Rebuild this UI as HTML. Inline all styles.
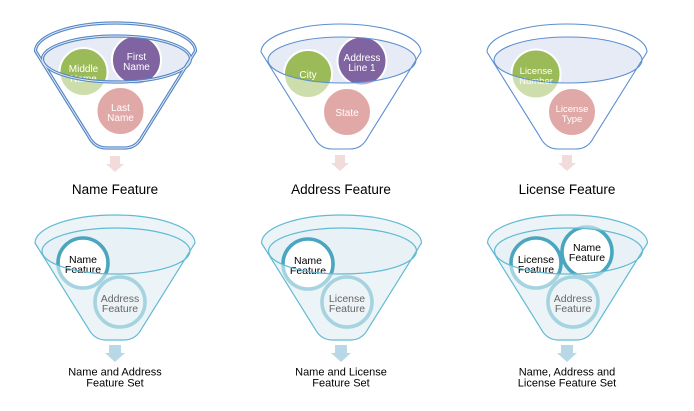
<!DOCTYPE html>
<html><head><meta charset="utf-8"><style>
html,body{margin:0;padding:0;background:#fff;}
svg{display:block;font-family:"Liberation Sans",sans-serif;}
</style></head><body>
<svg width="694" height="411" viewBox="0 0 694 411" xmlns="http://www.w3.org/2000/svg">
<!-- ===== TOP ROW ===== -->
<!-- F1 -->
<g transform="translate(115.5,23)">
  <path d="M-80,28 L-27,113 Q-21,125 -9,125 L9,125 Q21,125 27,113 L80,28 A80,28 0 0 0 -80,28 Z" fill="#ffffff"/>
  <ellipse cx="1" cy="36" rx="74" ry="23" fill="#e7ebf5"/>
  <circle cx="-32" cy="49" r="24" fill="#9bbb59" stroke="#fff" stroke-width="2"/>
  <circle cx="21" cy="37" r="24.5" fill="#8064a2" stroke="#fff" stroke-width="2"/>
  <circle cx="5" cy="88" r="24" fill="#c0504d" stroke="#fff" stroke-width="2"/>
  <path fill-rule="evenodd" fill="#ffffff" fill-opacity="0.5" d="M-80,28 L-27,113 Q-21,125 -9,125 L9,125 Q21,125 27,113 L80,28 A80,28 0 0 0 -80,28 Z M-73,36 a74,23 0 1,0 148,0 a74,23 0 1,0 -148,0 Z"/>
  <g fill="#fff" font-size="10" text-anchor="middle">
    <text x="-32" y="49">Middle</text><text x="-32" y="59">Name</text>
    <text x="21" y="37">First</text><text x="21" y="47">Name</text>
    <text x="5" y="88">Last</text><text x="5" y="98">Name</text>
  </g>
  <path d="M-80,28 L-27,113 Q-21,125 -9,125 L9,125 Q21,125 27,113 L80,28 A80,28 0 0 0 -80,28 Z" fill="none" stroke="#5587c6" stroke-width="3.2"/>
  <ellipse cx="1" cy="36" rx="74" ry="23" fill="none" stroke="#5587c6" stroke-width="3.2"/>
  <path d="M-80,28 L-27,113 Q-21,125 -9,125 L9,125 Q21,125 27,113 L80,28 A80,28 0 0 0 -80,28 Z" fill="none" stroke="#e4ecf7" stroke-width="0.9"/>
  <ellipse cx="1" cy="36" rx="74" ry="23" fill="none" stroke="#e4ecf7" stroke-width="0.9"/>
</g>
<!-- F2 -->
<g transform="translate(341,24)">
  <path d="M-80,28 L-27,113 Q-21,125 -9,125 L9,125 Q21,125 27,113 L80,28 A80,28 0 0 0 -80,28 Z" fill="#ffffff"/>
  <ellipse cx="1" cy="36" rx="74" ry="23" fill="#e7ebf5"/>
  <circle cx="-33" cy="50" r="24" fill="#9bbb59" stroke="#fff" stroke-width="2"/>
  <circle cx="21" cy="37" r="24.5" fill="#8064a2" stroke="#fff" stroke-width="2"/>
  <circle cx="6" cy="88" r="24" fill="#c0504d" stroke="#fff" stroke-width="2"/>
  <path fill-rule="evenodd" fill="#ffffff" fill-opacity="0.5" d="M-80,28 L-27,113 Q-21,125 -9,125 L9,125 Q21,125 27,113 L80,28 A80,28 0 0 0 -80,28 Z M-73,36 a74,23 0 1,0 148,0 a74,23 0 1,0 -148,0 Z"/>
  <g fill="#fff" font-size="10" text-anchor="middle">
    <text x="-33" y="54">City</text>
    <text x="21" y="37">Address</text><text x="21" y="47">Line 1</text>
    <text x="6" y="92">State</text>
  </g>
  <path d="M-80,28 L-27,113 Q-21,125 -9,125 L9,125 Q21,125 27,113 L80,28 A80,28 0 0 0 -80,28 Z" fill="none" stroke="#5b8fd0" stroke-width="1.1"/>
  <ellipse cx="1" cy="36" rx="74" ry="23" fill="none" stroke="#5b8fd0" stroke-width="1.1"/>
</g>
<!-- F3 -->
<g transform="translate(567,24)">
  <path d="M-80,28 L-27,113 Q-21,125 -9,125 L9,125 Q21,125 27,113 L80,28 A80,28 0 0 0 -80,28 Z" fill="#ffffff"/>
  <ellipse cx="1" cy="36" rx="74" ry="23" fill="#e7ebf5"/>
  <circle cx="-31" cy="50" r="24.5" fill="#9bbb59" stroke="#fff" stroke-width="2"/>
  <circle cx="5" cy="88" r="24" fill="#c0504d" stroke="#fff" stroke-width="2"/>
  <path fill-rule="evenodd" fill="#ffffff" fill-opacity="0.5" d="M-80,28 L-27,113 Q-21,125 -9,125 L9,125 Q21,125 27,113 L80,28 A80,28 0 0 0 -80,28 Z M-73,36 a74,23 0 1,0 148,0 a74,23 0 1,0 -148,0 Z"/>
  <g fill="#fff" font-size="9.5" text-anchor="middle">
    <text x="-31" y="50">License</text><text x="-31" y="60">Number</text>
    <text x="5" y="88">License</text><text x="5" y="98">Type</text>
  </g>
  <path d="M-80,28 L-27,113 Q-21,125 -9,125 L9,125 Q21,125 27,113 L80,28 A80,28 0 0 0 -80,28 Z" fill="none" stroke="#5b8fd0" stroke-width="1.1"/>
  <ellipse cx="1" cy="36" rx="74" ry="23" fill="none" stroke="#5b8fd0" stroke-width="1.1"/>
</g>
<!-- top arrows -->
<g fill="#f2dcdb">
  <path d="M110,156 h10 v8 h4 l-9,8 l-9,-8 h4 Z"/>
  <path d="M335,155 h10 v8 h4 l-9,8 l-9,-8 h4 Z"/>
  <path d="M562,155 h10 v8 h4 l-9,8 l-9,-8 h4 Z"/>
</g>
<g font-size="13.5" fill="#000" text-anchor="middle">
  <text x="115" y="194">Name Feature</text>
  <text x="341" y="194">Address Feature</text>
  <text x="567" y="194">License Feature</text>
</g>

<!-- ===== BOTTOM ROW ===== -->
<!-- F4 -->
<g transform="translate(115,215)">
  <path d="M-80,28 L-27,113 Q-21,125 -9,125 L9,125 Q21,125 27,113 L80,28 A80,28 0 0 0 -80,28 Z" fill="#d8e8ee"/>
  <ellipse cx="1" cy="36" rx="74" ry="23" fill="#e8f1f5"/>
  <circle cx="-32" cy="48" r="25" fill="#ffffff" stroke="#4aa6bf" stroke-width="3.6"/>
  <circle cx="5" cy="87" r="25" fill="none" stroke="#4aa6bf" stroke-width="3.6"/>
  <path fill-rule="evenodd" fill="#ffffff" fill-opacity="0.5" d="M-80,28 L-27,113 Q-21,125 -9,125 L9,125 Q21,125 27,113 L80,28 A80,28 0 0 0 -80,28 Z M-73,36 a74,23 0 1,0 148,0 a74,23 0 1,0 -148,0 Z"/>
  <g font-size="10.5" text-anchor="middle">
    <text x="-32" y="48" fill="#000">Name</text><text x="-32" y="58" fill="#000">Feature</text>
    <text x="5" y="87" fill="#666">Address</text><text x="5" y="97" fill="#666">Feature</text>
  </g>
  <path d="M-80,28 L-27,113 Q-21,125 -9,125 L9,125 Q21,125 27,113 L80,28 A80,28 0 0 0 -80,28 Z" fill="none" stroke="#62bad4" stroke-width="1.2"/>
  <ellipse cx="1" cy="36" rx="74" ry="23" fill="none" stroke="#62bad4" stroke-width="1.2"/>
</g>
<!-- F5 -->
<g transform="translate(341.5,215)">
  <path d="M-80,28 L-27,113 Q-21,125 -9,125 L9,125 Q21,125 27,113 L80,28 A80,28 0 0 0 -80,28 Z" fill="#d8e8ee"/>
  <ellipse cx="1" cy="36" rx="74" ry="23" fill="#e8f1f5"/>
  <circle cx="-33.5" cy="49" r="25" fill="#ffffff" stroke="#4aa6bf" stroke-width="3.6"/>
  <circle cx="5.5" cy="87" r="25" fill="none" stroke="#4aa6bf" stroke-width="3.6"/>
  <path fill-rule="evenodd" fill="#ffffff" fill-opacity="0.5" d="M-80,28 L-27,113 Q-21,125 -9,125 L9,125 Q21,125 27,113 L80,28 A80,28 0 0 0 -80,28 Z M-73,36 a74,23 0 1,0 148,0 a74,23 0 1,0 -148,0 Z"/>
  <g font-size="10.5" text-anchor="middle">
    <text x="-33.5" y="49" fill="#000">Name</text><text x="-33.5" y="59" fill="#000">Feature</text>
    <text x="5.5" y="87" fill="#666">License</text><text x="5.5" y="97" fill="#666">Feature</text>
  </g>
  <path d="M-80,28 L-27,113 Q-21,125 -9,125 L9,125 Q21,125 27,113 L80,28 A80,28 0 0 0 -80,28 Z" fill="none" stroke="#62bad4" stroke-width="1.2"/>
  <ellipse cx="1" cy="36" rx="74" ry="23" fill="none" stroke="#62bad4" stroke-width="1.2"/>
</g>
<!-- F6 -->
<g transform="translate(567.5,215)">
  <path d="M-80,28 L-27,113 Q-21,125 -9,125 L9,125 Q21,125 27,113 L80,28 A80,28 0 0 0 -80,28 Z" fill="#d8e8ee"/>
  <ellipse cx="1" cy="36" rx="74" ry="23" fill="#e8f1f5"/>
  <circle cx="-31.5" cy="48" r="25" fill="#ffffff" stroke="#4aa6bf" stroke-width="3.6"/>
  <circle cx="19.5" cy="37" r="25" fill="#ffffff" stroke="#4aa6bf" stroke-width="3.6"/>
  <circle cx="5.5" cy="87" r="25" fill="none" stroke="#4aa6bf" stroke-width="3.6"/>
  <path fill-rule="evenodd" fill="#ffffff" fill-opacity="0.5" d="M-80,28 L-27,113 Q-21,125 -9,125 L9,125 Q21,125 27,113 L80,28 A80,28 0 0 0 -80,28 Z M-73,36 a74,23 0 1,0 148,0 a74,23 0 1,0 -148,0 Z"/>
  <g font-size="10.5" text-anchor="middle">
    <text x="-31.5" y="48" fill="#000">License</text><text x="-31.5" y="58" fill="#000">Feature</text>
    <text x="19.5" y="36" fill="#000">Name</text><text x="19.5" y="46" fill="#000">Feature</text>
    <text x="5.5" y="87" fill="#666">Address</text><text x="5.5" y="97" fill="#666">Feature</text>
  </g>
  <path d="M-80,28 L-27,113 Q-21,125 -9,125 L9,125 Q21,125 27,113 L80,28 A80,28 0 0 0 -80,28 Z" fill="none" stroke="#62bad4" stroke-width="1.2"/>
  <ellipse cx="1" cy="36" rx="74" ry="23" fill="none" stroke="#62bad4" stroke-width="1.2"/>
</g>
<!-- bottom arrows -->
<g fill="#b9d8e7">
  <path d="M109,345 h12 v8 h4 l-10,9 l-10,-9 h4 Z"/>
  <path d="M335,345 h12 v8 h4 l-10,9 l-10,-9 h4 Z"/>
  <path d="M561,345 h12 v8 h4 l-10,9 l-10,-9 h4 Z"/>
</g>
<g font-size="11" fill="#000" text-anchor="middle">
  <text x="115" y="375.5">Name and Address</text>
  <text x="115" y="386.5">Feature Set</text>
  <text x="341" y="375.5">Name and License</text>
  <text x="341" y="386.5">Feature Set</text>
  <text x="567" y="375.5">Name, Address and</text>
  <text x="567" y="386.5">License Feature Set</text>
</g>
</svg>
</body></html>
